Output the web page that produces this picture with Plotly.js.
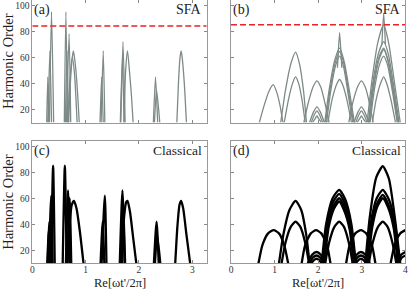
<!DOCTYPE html>
<html><head><meta charset="utf-8">
<script src="https://cdn.plot.ly/plotly-3.0.1.min.js"></script>
<style>html,body{margin:0;padding:0;background:#fff}#chart{width:409px;height:291px}</style>
</head><body><div id="chart"></div>
<script>
// cutoff (dashed red line), harmonic order
const cutoffA = 84;
const cutoffB = 85;
const yTicks = [20, 40, 60, 80, 100];
const xTicksLeft = [0, 1, 2, 3];
const xTicksRight = [0, 1, 2, 3, 4];
const xTitle = "Re[ωt'/2π]";
const yTitle = 'Harmonic Order';

// Panel (a): SFA, x = Re[wt'/2pi], y = harmonic order; each curve is a list of [x, y]
const sfaA = [
  [[0.27,10],[0.29,45],[0.31,10]],
  [[0.29,10],[0.33,65],[0.36,10]],
  [[0.32,10],[0.36,95],[0.40,10]],
  [[0.60,10],[0.63,95],[0.66,10]],
  [[0.62,10],[0.65,65],[0.68,10]],
  [[0.64,10],[0.69,78],[0.72,10]],
  [[0.67,10],[0.71,45],[0.75,60],[0.79,48],[0.84,10]],
  [[0.68,10],[0.72,45],[0.75,60],[0.77,65],[0.80,57],[0.84,38],[0.88,10]],
  [[1.27,10],[1.30,45],[1.33,10]],
  [[1.29,10],[1.33,65],[1.36,10]],
  [[1.65,10],[1.69,60],[1.72,10]],
  [[1.66,10],[1.70,72],[1.74,10]],
  [[1.72,10],[1.75,50],[1.785,65],[1.82,50],[1.86,30],[1.89,10]],
  [[2.27,10],[2.31,45],[2.35,10]],
  [[2.29,10],[2.33,35],[2.39,10]],
  [[2.71,10],[2.74,40],[2.77,60],[2.79,65],[2.81,60],[2.85,40],[2.89,10]]
];

// Panel (b): SFA
const sfaB = [
  [[0.65,10],[0.75,22],[0.87,34],[0.97,39],[1.06,32],[1.13,22],[1.19,10]],
  [[1.14,10],[1.25,35],[1.38,56],[1.48,64],[1.57,55],[1.66,35],[1.73,10]],
  [[1.22,10],[1.32,28],[1.42,41],[1.48,45],[1.55,40],[1.63,27],[1.70,10]],
  [[1.67,10],[1.77,25],[1.89,38],[1.97,42],[2.06,37],[2.16,24],[2.25,10]],
  [[1.80,10],[1.89,18],[1.97,22],[2.05,18],[2.14,10]],
  [[1.84,10],[1.91,16],[1.97,19],[2.03,16],[2.10,10]],
  [[1.87,10],[1.93,13],[1.97,15],[2.01,13],[2.07,10]],
  [[2.15,10],[2.25,35],[2.38,58],[2.49,67],[2.60,56],[2.72,33],[2.83,10]],
  [[2.17,10],[2.27,35],[2.39,56],[2.49,64.5],[2.59,55],[2.70,33],[2.81,10]],
  [[2.19,10],[2.29,35],[2.40,54],[2.49,61],[2.58,53],[2.68,33],[2.79,10]],
  [[2.44,52],[2.49,79],[2.54,52]],
  [[2.22,10],[2.32,28],[2.43,40],[2.49,43],[2.56,39],[2.66,27],[2.76,10]],
  [[2.70,10],[2.79,25],[2.91,38],[2.99,42],[3.08,37],[3.18,24],[3.26,10]],
  [[2.82,10],[2.91,18],[2.99,22],[3.07,18],[3.16,10]],
  [[2.86,10],[2.93,16],[2.99,19],[3.05,16],[3.12,10]],
  [[2.89,10],[2.95,13],[2.99,15],[3.03,13],[3.09,10]],
  [[3.12,10],[3.23,42],[3.37,72],[3.50,85],[3.62,70],[3.75,40],[3.88,10]],
  [[3.15,10],[3.25,40],[3.38,63],[3.50,72],[3.61,62],[3.73,38],[3.85,10]],
  [[3.16,10],[3.26,38],[3.39,60],[3.50,67],[3.60,58],[3.72,36],[3.84,10]],
  [[3.17,10],[3.27,37],[3.40,59],[3.50,66],[3.60,57],[3.71,35],[3.83,10]],
  [[3.19,10],[3.29,36],[3.41,55],[3.50,61],[3.59,54],[3.70,34],[3.81,10]],
  [[3.46,70],[3.50,94],[3.54,70]],
  [[3.24,10],[3.33,28],[3.44,41],[3.50,45],[3.57,40],[3.67,27],[3.77,10]]
];

// Panel (c): classical
const classicalC = [
  [[0.28,10],[0.31,35],[0.33,10]],
  [[0.29,10],[0.32,42],[0.345,10]],
  [[0.31,10],[0.355,62],[0.38,10]],
  [[0.35,10],[0.39,85],[0.42,10]],
  [[0.57,10],[0.61,85],[0.645,10]],
  [[0.63,10],[0.67,66],[0.71,10]],
  [[0.66,10],[0.70,60],[0.73,10]],
  [[0.66,10],[0.70,40],[0.74,55],[0.78,58],[0.83,52],[0.89,35],[0.96,10]],
  [[1.28,10],[1.32,42],[1.35,10]],
  [[1.30,10],[1.36,62],[1.39,10]],
  [[1.64,10],[1.69,66],[1.73,10]],
  [[1.66,10],[1.70,55],[1.74,10]],
  [[1.68,10],[1.72,45],[1.76,57],[1.785,58],[1.83,50],[1.89,30],[1.95,10]],
  [[2.28,10],[2.33,42],[2.37,10]],
  [[2.30,10],[2.34,32],[2.40,10]],
  [[2.68,10],[2.72,38],[2.76,55],[2.79,58],[2.83,52],[2.89,32],[2.96,10]]
];

// Panel (d): classical
const classicalD = [
  [[0.63,10],[0.72,24],[0.85,33],[0.98,35.5],[1.10,33],[1.22,24],[1.31,10]],
  [[1.10,10],[1.20,32],[1.34,51],[1.48,58],[1.61,51],[1.72,33],[1.80,10]],
  [[1.16,10],[1.25,26],[1.37,38],[1.48,42],[1.59,38],[1.70,26],[1.79,10]],
  [[1.62,10],[1.70,24],[1.83,33],[1.95,35.5],[2.07,33],[2.20,24],[2.28,10]],
  [[1.76,10],[1.86,16.5],[1.96,18.7],[2.06,16.5],[2.16,10]],
  [[1.80,10],[1.88,14.5],[1.96,16],[2.04,14.5],[2.12,10]],
  [[1.84,10],[1.90,12.5],[1.96,13.5],[2.02,12.5],[2.08,10]],
  [[2.08,10],[2.18,40],[2.33,60],[2.48,66.5],[2.62,59],[2.76,40],[2.86,10]],
  [[2.10,10],[2.20,40],[2.34,57],[2.48,63.4],[2.61,56],[2.75,38],[2.85,10]],
  [[2.12,10],[2.22,39],[2.35,54],[2.48,60],[2.60,53],[2.73,37],[2.83,10]],
  [[2.14,10],[2.24,38],[2.36,52],[2.48,57.5],[2.59,51],[2.72,36],[2.81,10]],
  [[2.16,10],[2.25,26],[2.37,38],[2.48,42],[2.59,38],[2.70,26],[2.79,10]],
  [[2.64,10],[2.72,24],[2.85,33],[2.98,35.5],[3.10,33],[3.23,24],[3.31,10]],
  [[2.78,10],[2.88,16.5],[2.98,18.7],[3.08,16.5],[3.18,10]],
  [[2.82,10],[2.90,14.5],[2.98,16],[3.06,14.5],[3.14,10]],
  [[2.86,10],[2.92,12.5],[2.98,13.5],[3.04,12.5],[3.10,10]],
  [[3.08,10],[3.18,45],[3.33,76],[3.48,84.6],[3.62,75],[3.76,44],[3.88,10]],
  [[3.10,10],[3.20,40],[3.34,60],[3.48,66.5],[3.62,59],[3.76,40],[3.86,10]],
  [[3.12,10],[3.22,39],[3.35,56],[3.48,62.6],[3.61,55],[3.74,38],[3.84,10]],
  [[3.14,10],[3.24,38],[3.36,54],[3.48,60],[3.60,53],[3.73,37],[3.82,10]],
  [[3.16,10],[3.25,26],[3.37,38],[3.48,42],[3.59,38],[3.70,26],[3.79,10]],
  [[3.66,10],[3.75,24],[3.88,33],[4.00,35.5]],
  [[3.80,10],[3.90,16.5],[4.00,18.7]],
  [[3.84,10],[3.92,14.5],[4.00,16]]
];

const sfaColor = '#7d8a87';
const traces = [];
function addCurves(curves, xa, ya, color, width) {
  curves.forEach(c => {
    traces.push({
      type: 'scatter', mode: 'lines', xaxis: xa, yaxis: ya,
      x: c.map(p => p[0]), y: c.map(p => p[1]),
      line: {color: color, width: width, shape: 'spline', smoothing: 0.6},
      hoverinfo: 'skip', showlegend: false
    });
  });
}
addCurves(sfaA, 'x', 'y', sfaColor, 1.3);
addCurves(sfaB, 'x2', 'y2', sfaColor, 1.3);
addCurves(classicalC, 'x3', 'y3', '#000', 2.3);
addCurves(classicalD, 'x4', 'y4', '#000', 2.3);

traces.push({type:'scatter', mode:'lines', xaxis:'x', yaxis:'y', x:[0,3.27], y:[cutoffA,cutoffA],
  line:{color:'#e8242a', width:1.6, dash:'6px,3px'}, hoverinfo:'skip', showlegend:false});
traces.push({type:'scatter', mode:'lines', xaxis:'x2', yaxis:'y2', x:[0,4], y:[cutoffB,cutoffB],
  line:{color:'#e8242a', width:1.6, dash:'6px,3px'}, hoverinfo:'skip', showlegend:false});

const serif = 'Liberation Serif, Times New Roman, serif';
const tickFont = {family: serif, size: 9.5, color: '#333'};
function xax(domain, range, vals, labels, anchor) {
  return {domain: domain, range: range, anchor: anchor, tickvals: vals, ticks: 'inside', ticklen: 3,
    tickcolor: '#888', showline: true, linecolor: '#999', linewidth: 1, mirror: 'ticks',
    showgrid: false, zeroline: false, showticklabels: labels, tickfont: tickFont, automargin: false,
    ticklabeloverflow: 'allow', ticklabelstandoff: -3};
}
function yax(domain, labels, anchor, title) {
  const a = {domain: domain, range: [10, 104], anchor: anchor, tickvals: yTicks, ticks: 'inside', ticklen: 3,
    tickcolor: '#888', showline: true, linecolor: '#999', linewidth: 1, mirror: 'ticks',
    showgrid: false, zeroline: false, showticklabels: labels, tickfont: tickFont, automargin: false,
    ticklabeloverflow: 'allow'};
  if (title) a.title = {text: title, font: {family: serif, size: 14.5, color: '#222'}, standoff: 4};
  return a;
}
const xL = [0.079, 0.5054], xR = [0.5648, 0.9914];
const yT = [0.579, 1.0], yB = [0.0952, 0.5155];

function ann(text, xref, yref, x, y, xanchor, size) {
  return {text: text, xref: xref + ' domain', yref: yref + ' domain', x: x, y: y, xanchor: xanchor, yanchor: 'top',
    showarrow: false, font: {family: serif, size: size, color: '#222'}};
}
function xTitleAnn(xref) {
  return {text: xTitle, xref: xref + ' domain', yref: 'paper', x: 0.5, y: 0, xanchor: 'center', yanchor: 'bottom',
    showarrow: false, borderpad: 0, font: {family: serif, size: 12.5, color: '#222'}};
}

const layout = {
  width: 409, height: 291,
  margin: {l: 0, r: 0, t: 0, b: 0},
  paper_bgcolor: '#fff', plot_bgcolor: '#fff', showlegend: false,
  xaxis: xax(xL, [0, 3.27], xTicksLeft, false, 'y'),
  yaxis: yax(yT, true, 'x', yTitle),
  xaxis2: xax(xR, [0, 4], xTicksRight, false, 'y2'),
  yaxis2: yax(yT, false, 'x2'),
  xaxis3: xax(xL, [0, 3.27], xTicksLeft, true, 'y3'),
  yaxis3: yax(yB, true, 'x3', yTitle),
  xaxis4: xax(xR, [0, 4], xTicksRight, true, 'y4'),
  yaxis4: yax(yB, false, 'x4'),
  annotations: [
    ann('(a)', 'x', 'y', 0.0, 1.0, 'left', 14),
    ann('SFA', 'x', 'y', 0.985, 1.0, 'right', 14),
    ann('(b)', 'x2', 'y2', 0.0, 1.0, 'left', 14),
    ann('SFA', 'x2', 'y2', 0.985, 1.0, 'right', 14),
    ann('(c)', 'x3', 'y3', 0.0, 1.0, 'left', 14),
    ann('Classical', 'x3', 'y3', 0.985, 1.0, 'right', 13.5),
    ann('(d)', 'x4', 'y4', 0.0, 1.0, 'left', 14),
    ann('Classical', 'x4', 'y4', 0.985, 1.0, 'right', 13.5),
    xTitleAnn('x3'),
    xTitleAnn('x4')
  ]
};

Plotly.newPlot('chart', traces, layout, {staticPlot: true, displayModeBar: false});
</script></body></html>
